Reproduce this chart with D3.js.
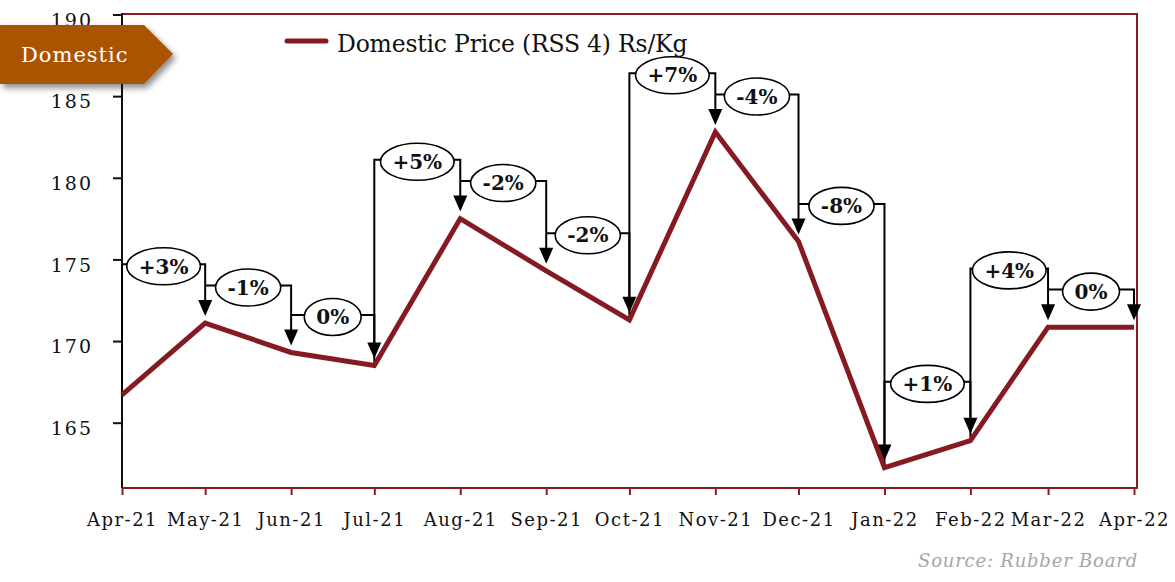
<!DOCTYPE html>
<html>
<head>
<meta charset="utf-8">
<script src="https://cdn.jsdelivr.net/npm/d3@7"></script>
<style>
  html, body { margin: 0; padding: 0; background: #fff; }
  svg { display: block; }
</style>
</head>
<body>
<svg id="chart" width="1175" height="582"></svg>
<script>
// Monthly domestic price of RSS 4 rubber (Rs/Kg)
const months = ["Apr-21", "May-21", "Jun-21", "Jul-21", "Aug-21", "Sep-21", "Oct-21",
                "Nov-21", "Dec-21", "Jan-22", "Feb-22", "Mar-22", "Apr-22"];
const prices = [166.7, 171.1, 169.3, 168.5, 177.5, 174.3, 171.3, 182.8, 176.1, 162.25, 163.9, 170.85, 170.85];
// Month-on-month change shown in the callouts
const changeLabels = ["+3%", "-1%", "0%", "+5%", "-2%", "-2%", "+7%", "-4%", "-8%", "+1%", "+4%", "0%"];
const yTicks = [165, 170, 175, 180, 185, 190];
const seriesName = "Domestic Price (RSS 4) Rs/Kg";
const tagText = "Domestic";
const sourceText = "Source: Rubber Board";

const LINE_RED = "#861a22";
const FRAME_RED = "#8c1c1c";
const SERIF = "'DejaVu Serif', Georgia, serif";

const parse = d3.timeParse("%b-%y");
const dates = months.map(parse);
const data = dates.map((d, i) => ({ date: d, label: months[i], value: prices[i] }));

const svg = d3.select("#chart");

const plot = { left: 122, right: 1137, top: 14, bottom: 488 };
const x = d3.scaleTime().domain(d3.extent(dates)).range([122, 1134]);
const y = d3.scaleLinear().domain([161, 190]).range([488, 14.5]);

// Shadow for the section tag
const defs = svg.append("defs");
const f = defs.append("filter").attr("id", "tagShadow")
  .attr("x", "-10%").attr("y", "-20%").attr("width", "130%").attr("height", "160%");
f.append("feDropShadow").attr("dx", 3).attr("dy", 4).attr("stdDeviation", 3)
  .attr("flood-color", "#000").attr("flood-opacity", 0.45);

// Plot frame (top, right, bottom in red)
svg.append("path")
  .attr("d", `M${plot.left},${plot.top}H${plot.right}V${plot.bottom}H${plot.left}`)
  .attr("fill", "none").attr("stroke", FRAME_RED).attr("stroke-width", 2);

// Y axis
const yAxis = svg.append("g")
  .attr("transform", `translate(${plot.left},0)`)
  .call(d3.axisLeft(y).tickValues(yTicks).tickSize(9).tickPadding(20).tickFormat(d3.format("d")));
yAxis.select(".domain").remove();
yAxis.selectAll(".tick line").attr("stroke", "#111").attr("stroke-width", 2);
yAxis.selectAll(".tick text")
  .attr("font-family", SERIF).attr("font-size", 19).attr("fill", "#111")
  .attr("letter-spacing", "2px").attr("dy", "0.62em");
svg.append("line")
  .attr("x1", plot.left).attr("x2", plot.left)
  .attr("y1", plot.top - 1).attr("y2", plot.bottom)
  .attr("stroke", "#111").attr("stroke-width", 2);

// X axis
const xAxis = svg.append("g")
  .attr("transform", `translate(0,${plot.bottom})`)
  .call(d3.axisBottom(x).tickValues(dates).tickSize(7).tickPadding(18)
    .tickFormat((d, i) => months[i]));
xAxis.select(".domain").remove();
xAxis.selectAll(".tick line").attr("stroke", FRAME_RED).attr("stroke-width", 2);
xAxis.selectAll(".tick text")
  .attr("font-family", SERIF).attr("font-size", 18).attr("fill", "#111")
  .attr("letter-spacing", "1.5px");

// Change callouts: bracket from one month to the next with an arrow onto the next point
const ann = svg.append("g");
const ARROW_W = 14, ARROW_H = 16, ARROW_GAP = 7;
for (let i = 0; i < data.length - 1; i++) {
  const a = data[i], b = data[i + 1];
  const rise = b.value > a.value;
  const level = y(Math.max(a.value, b.value) + (rise ? 3.6 : 2.3));
  const x0 = x(a.date), x1 = x(b.date);
  const tipY = y(b.value) - ARROW_GAP;

  let d = "";
  if (rise) d += `M${x0},${y(a.value)}V${level}`;
  else d += `M${x0},${level}`;
  d += `H${x1}V${tipY - ARROW_H + 1}`;
  ann.append("path").attr("d", d)
    .attr("fill", "none").attr("stroke", "#000").attr("stroke-width", 2);

  ann.append("path")
    .attr("d", `M${x1 - ARROW_W / 2},${tipY - ARROW_H}L${x1 + ARROW_W / 2},${tipY - ARROW_H}L${x1},${tipY}Z`)
    .attr("fill", "#000");

  const cx = (x0 + x1) / 2, cy = level + 2;
  const g = ann.append("g");
  const ell = g.append("ellipse").attr("cx", cx).attr("cy", cy).attr("ry", 18.5)
    .attr("fill", "#fff").attr("stroke", "#000").attr("stroke-width", 1.6);
  const t = g.append("text").attr("x", cx).attr("y", cy).attr("dy", "0.36em")
    .attr("text-anchor", "middle")
    .attr("font-family", SERIF).attr("font-weight", "bold").attr("font-size", 20)
    .attr("fill", "#111").text(changeLabels[i]);
  const w = t.node().getComputedTextLength();
  ell.attr("rx", w / 2 + 12);
}

// Price line
svg.append("path").datum(data)
  .attr("d", d3.line().x(d => x(d.date)).y(d => y(d.value)))
  .attr("fill", "none").attr("stroke", LINE_RED).attr("stroke-width", 5)
  .attr("stroke-linejoin", "miter");

// Legend
svg.append("line").attr("x1", 287).attr("x2", 326).attr("y1", 41).attr("y2", 41)
  .attr("stroke", LINE_RED).attr("stroke-width", 5).attr("stroke-linecap", "round");
svg.append("text").attr("x", 337).attr("y", 52)
  .attr("font-family", SERIF).attr("font-size", 23.5).attr("fill", "#111")
  .attr("letter-spacing", "-0.2px")
  .text(seriesName);

// Section tag
const tag = svg.append("g").attr("filter", "url(#tagShadow)");
tag.append("path")
  .attr("d", "M0,25H144L173,54L144,84H0Z")
  .attr("fill", "#aa5200");
svg.append("text").attr("x", 21).attr("y", 62)
  .attr("font-family", SERIF).attr("font-size", 21).attr("fill", "#fff")
  .attr("letter-spacing", "1px")
  .text(tagText);

// Source note
svg.append("text").attr("x", 1138).attr("y", 567).attr("text-anchor", "end")
  .attr("font-family", SERIF).attr("font-style", "italic").attr("font-size", 18)
  .attr("fill", "#a6a6a6").attr("letter-spacing", "0.8px")
  .text(sourceText);
</script>
</body>
</html>
